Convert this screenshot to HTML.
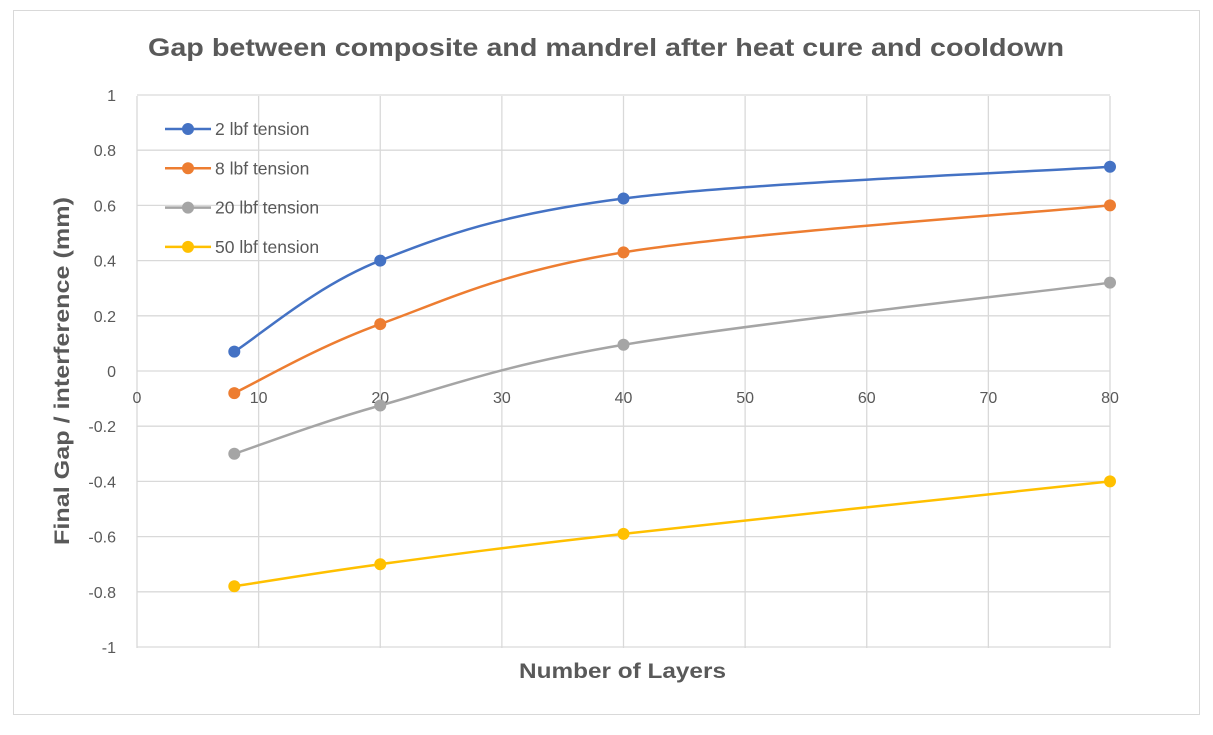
<!DOCTYPE html>
<html><head><style>
body{margin:0;background:#fff;width:1213px;height:730px;overflow:hidden;font-family:"Liberation Sans",sans-serif}
</style></head><body>
<svg id="s" width="1213" height="730" xmlns="http://www.w3.org/2000/svg" font-family="Liberation Sans, sans-serif">
<rect x="0" y="0" width="1213" height="730" fill="#fff"/>
<rect x="13.5" y="10.5" width="1186" height="704" fill="#fff" stroke="#d9d9d9"/>
<text x="148" y="56" font-size="25" font-weight="bold" fill="#595959" textLength="916" lengthAdjust="spacingAndGlyphs">Gap between composite and mandrel after heat cure and cooldown</text>
<g id="grid" stroke="#d9d9d9" stroke-width="1.3"></g>
<g id="lab" font-size="16" fill="#595959"></g>
<text x="519" y="678" font-size="21" font-weight="bold" fill="#595959" textLength="207" lengthAdjust="spacingAndGlyphs">Number of Layers</text>
<text transform="translate(69,545) rotate(-90)" font-size="21" font-weight="bold" fill="#595959" textLength="348" lengthAdjust="spacingAndGlyphs">Final Gap / interference (mm)</text>
<g id="ser"></g>
<g id="leg" font-size="17.5" fill="#595959"></g>
</svg>
<script>
var NS="http://www.w3.org/2000/svg";
function el(p,t,a,txt){var e=document.createElementNS(NS,t);for(var k in a)e.setAttribute(k,a[k]);if(txt!==undefined)e.textContent=txt;document.getElementById(p).appendChild(e);return e;}
function X(v){return 137+v*12.1625;}
function Y(v){return 371-v*276;}
for(var i=0;i<=8;i++){el("grid","line",{x1:X(i*10),x2:X(i*10),y1:96,y2:648});el("lab","text",{x:X(i*10),y:403,"text-anchor":"middle"},String(i*10));}
for(var j=-5;j<=5;j++){var v=j/5;el("grid","line",{x1:137,x2:1110,y1:Y(v),y2:Y(v)});var s=(Math.round(v*10)/10).toString();el("lab","text",{x:116,y:Y(v)+6,"text-anchor":"end"},s);}
var xs=[8,20,40,80];
var S=[["#4472c4",[0.07,0.40,0.625,0.74],"2 lbf tension"],["#ed7d31",[-0.08,0.17,0.43,0.60],"8 lbf tension"],["#a5a5a5",[-0.30,-0.125,0.095,0.32],"20 lbf tension"],["#ffc000",[-0.78,-0.70,-0.59,-0.40],"50 lbf tension"]];
S.forEach(function(s,k){
 var P=xs.map(function(x,i){return [X(x),Y(s[1][i])];});
 var d="M"+P[0][0]+","+P[0][1];
 for(var i=0;i<P.length-1;i++){
  var p0=P[i>0?i-1:i],p1=P[i],p2=P[i+1],p3=P[i+2<P.length?i+2:i+1],t=6;
  d+=" C"+(p1[0]+(p2[0]-p0[0])/t)+","+(p1[1]+(p2[1]-p0[1])/t)+" "+(p2[0]-(p3[0]-p1[0])/t)+","+(p2[1]-(p3[1]-p1[1])/t)+" "+p2[0]+","+p2[1];
 }
 el("ser","path",{d:d,fill:"none",stroke:s[0],"stroke-width":2.5});
 P.forEach(function(p){el("ser","circle",{cx:p[0],cy:p[1],r:6,fill:s[0]});});
 var ly=129+k*39.3;
 el("leg","line",{x1:165,x2:211,y1:ly,y2:ly,stroke:s[0],"stroke-width":2.5});
 el("leg","circle",{cx:188,cy:ly,r:6,fill:s[0]});
 el("leg","text",{x:215,y:ly+6},s[2]);
});
</script>
</body></html>
